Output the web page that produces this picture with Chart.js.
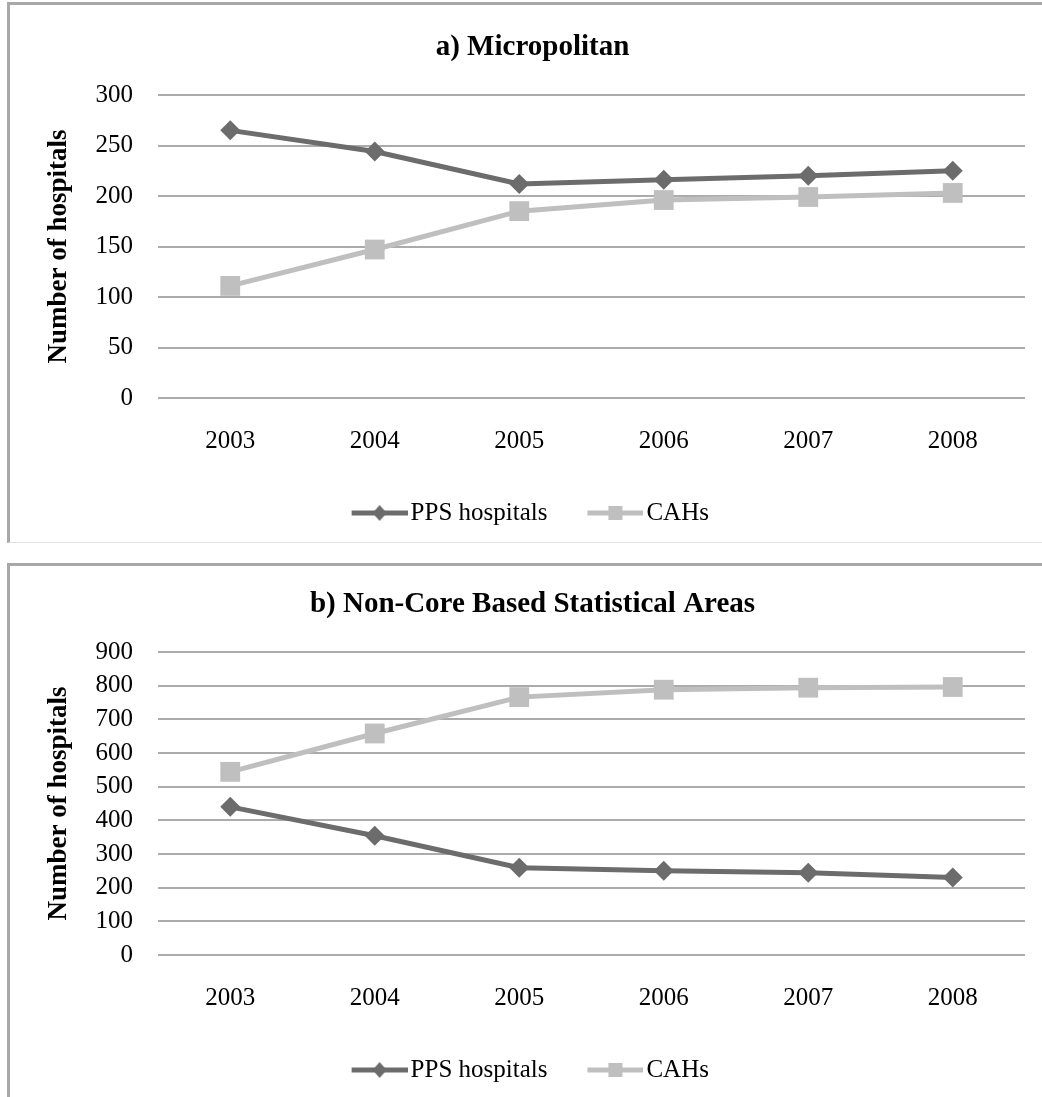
<!DOCTYPE html>
<html>
<head>
<meta charset="utf-8">
<script src="https://cdn.jsdelivr.net/npm/chart.js@4.4.1/dist/chart.umd.min.js"></script>
<style>
  body { margin: 0; background: #fff; width: 1042px; height: 1097px; overflow: hidden; position: relative; }
  .panel { position: absolute; left: 7px; width: 1040px; background: #fff;
           border-top: 3px solid #a8a8a8; border-left: 3px solid #a8a8a8; border-bottom: 1px solid #e0e0e0; }
  #panelA { top: 2px; height: 537px; }
  #panelB { top: 563px; height: 533px; }
  canvas { display: block; }
</style>
</head>
<body>
<div class="panel" id="panelA"><canvas id="chartA" width="1032" height="537"></canvas></div>
<div class="panel" id="panelB"><canvas id="chartB" width="1032" height="533"></canvas></div>
<script>
// Data
var years = ['2003', '2004', '2005', '2006', '2007', '2008'];
var seriesNames = ['PPS hospitals', 'CAHs'];

// a) Micropolitan
var microPps = [265, 244, 212, 216, 220, 225];
var microCah = [111, 147, 185, 196, 199, 203];

// b) Non-Core Based Statistical Areas
var noncorePps = [440, 354, 259, 250, 244, 230];
var noncoreCah = [544, 658, 766, 788, 794, 796];

var ppsColor = '#6c6c6c';
var cahColor = '#bfbfbf';
var fontFamily = "'Liberation Serif', 'Times New Roman', serif";

// little line + marker picture for the legend entries (5px blank on the left)
function legendIcon(color, shape) {
    var c = document.createElement('canvas');
    c.width = 61;
    c.height = 20;
    var g = c.getContext('2d');
    g.translate(5, 0);
    g.strokeStyle = color;
    g.lineWidth = 5;
    g.beginPath();
    g.moveTo(0, 10);
    g.lineTo(56, 10);
    g.stroke();
    g.fillStyle = color;
    if (shape === 'diamond') {
        g.beginPath();
        g.moveTo(28, 2);
        g.lineTo(35, 10);
        g.lineTo(28, 18);
        g.lineTo(21, 10);
        g.closePath();
        g.fill();
    } else {
        g.fillRect(21, 3, 14, 14);
    }
    return c;
}

var icons = [legendIcon(ppsColor, 'diamond'), legendIcon(cahColor, 'square')];

function makeChart(id, title, pps, cah, yMax, yStep, titleTop) {
    var ctx = document.getElementById(id).getContext('2d');
    return new Chart(ctx, {
        type: 'line',
        data: {
            labels: years,
            datasets: [{
                label: seriesNames[0],
                data: pps,
                borderColor: ppsColor,
                backgroundColor: ppsColor,
                borderWidth: 5,
                pointStyle: 'rectRot',
                pointRadius: 10,
                pointBorderWidth: 0,
                pointBackgroundColor: ppsColor
            }, {
                label: seriesNames[1],
                data: cah,
                borderColor: cahColor,
                backgroundColor: cahColor,
                borderWidth: 5,
                pointStyle: 'rect',
                pointRadius: 14,
                pointBorderWidth: 0,
                pointBackgroundColor: cahColor
            }]
        },
        options: {
            responsive: false,
            animation: false,
            devicePixelRatio: 1,
            layout: { padding: { left: 30, right: 17, top: 0, bottom: 6.5 } },
            plugins: {
                title: {
                    display: true,
                    text: title,
                    color: '#000',
                    font: { family: fontFamily, size: 29, weight: 'bold' },
                    padding: { top: titleTop, bottom: 29.6 }
                },
                legend: {
                    position: 'bottom',
                    labels: {
                        usePointStyle: true,
                        pointStyleWidth: 42,
                        padding: 44.5,
                        color: '#000',
                        font: { family: fontFamily, size: 25 },
                        generateLabels: function(chart) {
                            return chart.data.datasets.map(function(ds, i) {
                                return {
                                    text: ds.label,
                                    pointStyle: icons[i],
                                    fillStyle: ds.borderColor,
                                    strokeStyle: ds.borderColor,
                                    lineWidth: 0,
                                    hidden: false,
                                    datasetIndex: i,
                                    fontColor: '#000'
                                };
                            });
                        }
                    }
                },
                tooltip: { enabled: false }
            },
            scales: {
                x: {
                    offset: true,
                    afterFit: function(scale) { scale.height = 58; },
                    grid: { display: false, drawTicks: false },
                    border: { display: false },
                    ticks: {
                        color: '#000',
                        padding: 28,
                        font: { family: fontFamily, size: 25 }
                    }
                },
                y: {
                    min: 0,
                    max: yMax,
                    afterFit: function(scale) { scale.width = 118; },
                    grid: { color: '#ababab', lineWidth: 2, drawTicks: false },
                    border: { display: false },
                    ticks: {
                        stepSize: yStep,
                        autoSkip: false,
                        color: '#000',
                        padding: 25,
                        font: { family: fontFamily, size: 25 }
                    },
                    title: {
                        display: true,
                        text: 'Number of hospitals',
                        color: '#000',
                        padding: { top: 3, bottom: 0 },
                        font: { family: fontFamily, size: 27, weight: 'bold' }
                    }
                }
            }
        }
    });
}

makeChart('chartA', 'a) Micropolitan', microPps, microCah, 300, 50, 25.6);
makeChart('chartB', 'b) Non-Core Based Statistical Areas', noncorePps, noncoreCah, 900, 100, 21.6);
</script>
</body>
</html>
